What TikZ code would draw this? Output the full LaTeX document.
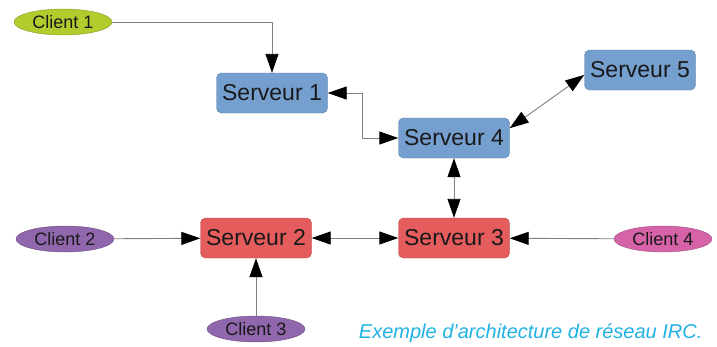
\documentclass[tikz,border=0pt]{standalone}
\usepackage{fontspec}
\setmainfont{Liberation Sans}
\usepackage{tikz}
\usetikzlibrary{arrows.meta}
\usetikzlibrary{shapes}
\definecolor{srvblue}{RGB}{116,159,207}
\definecolor{srvred}{RGB}{228,92,92}
\definecolor{cltgreen}{RGB}{178,204,46}
\definecolor{cltpurple}{RGB}{144,102,172}
\definecolor{cltpink}{RGB}{214,98,168}
\definecolor{captioncyan}{RGB}{32,178,228}
\tikzstyle{serveur}=[draw=srvblue!80!black, fill=srvblue, rounded corners=5pt, minimum width=111pt, minimum height=40pt, inner sep=0pt, font=\fontsize{23}{26}\selectfont, text=black!90]
\tikzstyle{serveurrouge}=[serveur, draw=srvred!80!black, fill=srvred]
\tikzstyle{client}=[ellipse, draw=#1!75!black, fill=#1, minimum width=98pt, minimum height=26pt, inner sep=0pt, font=\fontsize{18}{20}\selectfont, text=black!90]
\tikzstyle{lien}=[gray, line width=0.9pt, -{Triangle[length=19pt,width=13pt,black]}]
\tikzstyle{bilien}=[gray, line width=0.9pt, {Triangle[length=19pt,width=13pt,black]}-{Triangle[length=19pt,width=13pt,black]}]

\begin{document}
\begin{tikzpicture}[x=1pt,y=-1pt]
	\useasboundingbox (0,0) rectangle (717,346);
	\node[serveur] (s1) at (272,93) {Serveur 1};
	\node[serveur] (s4) at (454,138) {Serveur 4};
	\node[serveur] (s5) at (640,70) {Serveur 5};
	\node[serveurrouge] (s2) at (256,238) {Serveur 2};
	\node[serveurrouge] (s3) at (454,238) {Serveur 3};
	\node[client=cltgreen] (c1) at (63,22) {Client 1};
	\node[client=cltpurple] (c2) at (65,239) {Client 2};
	\node[client=cltpurple] (c3) at (256,329) {Client 3};
	\node[client=cltpink] (c4) at (663,239) {Client 4};
	\draw[lien] (c1.east) -| (s1.north);
	\draw[bilien] (s1.east) -- ++(35,0) |- (s4.west);
	\draw[bilien] (s4.10) -- (s5.185);
	\draw[bilien] (s4) -- (s3);
	\draw[bilien] (s2) -- (s3);
	\draw[lien] (c2) -- (s2);
	\draw[lien] (c3) -- (s2);
	\draw[lien] (c4) -- (s3);
%	legende
	\node[anchor=east, text=captioncyan, font=\fontsize{20}{22}\selectfont\itshape] (legende) at (706,333) {Exemple d’architecture de réseau IRC.};
\end{tikzpicture}
\end{document}
